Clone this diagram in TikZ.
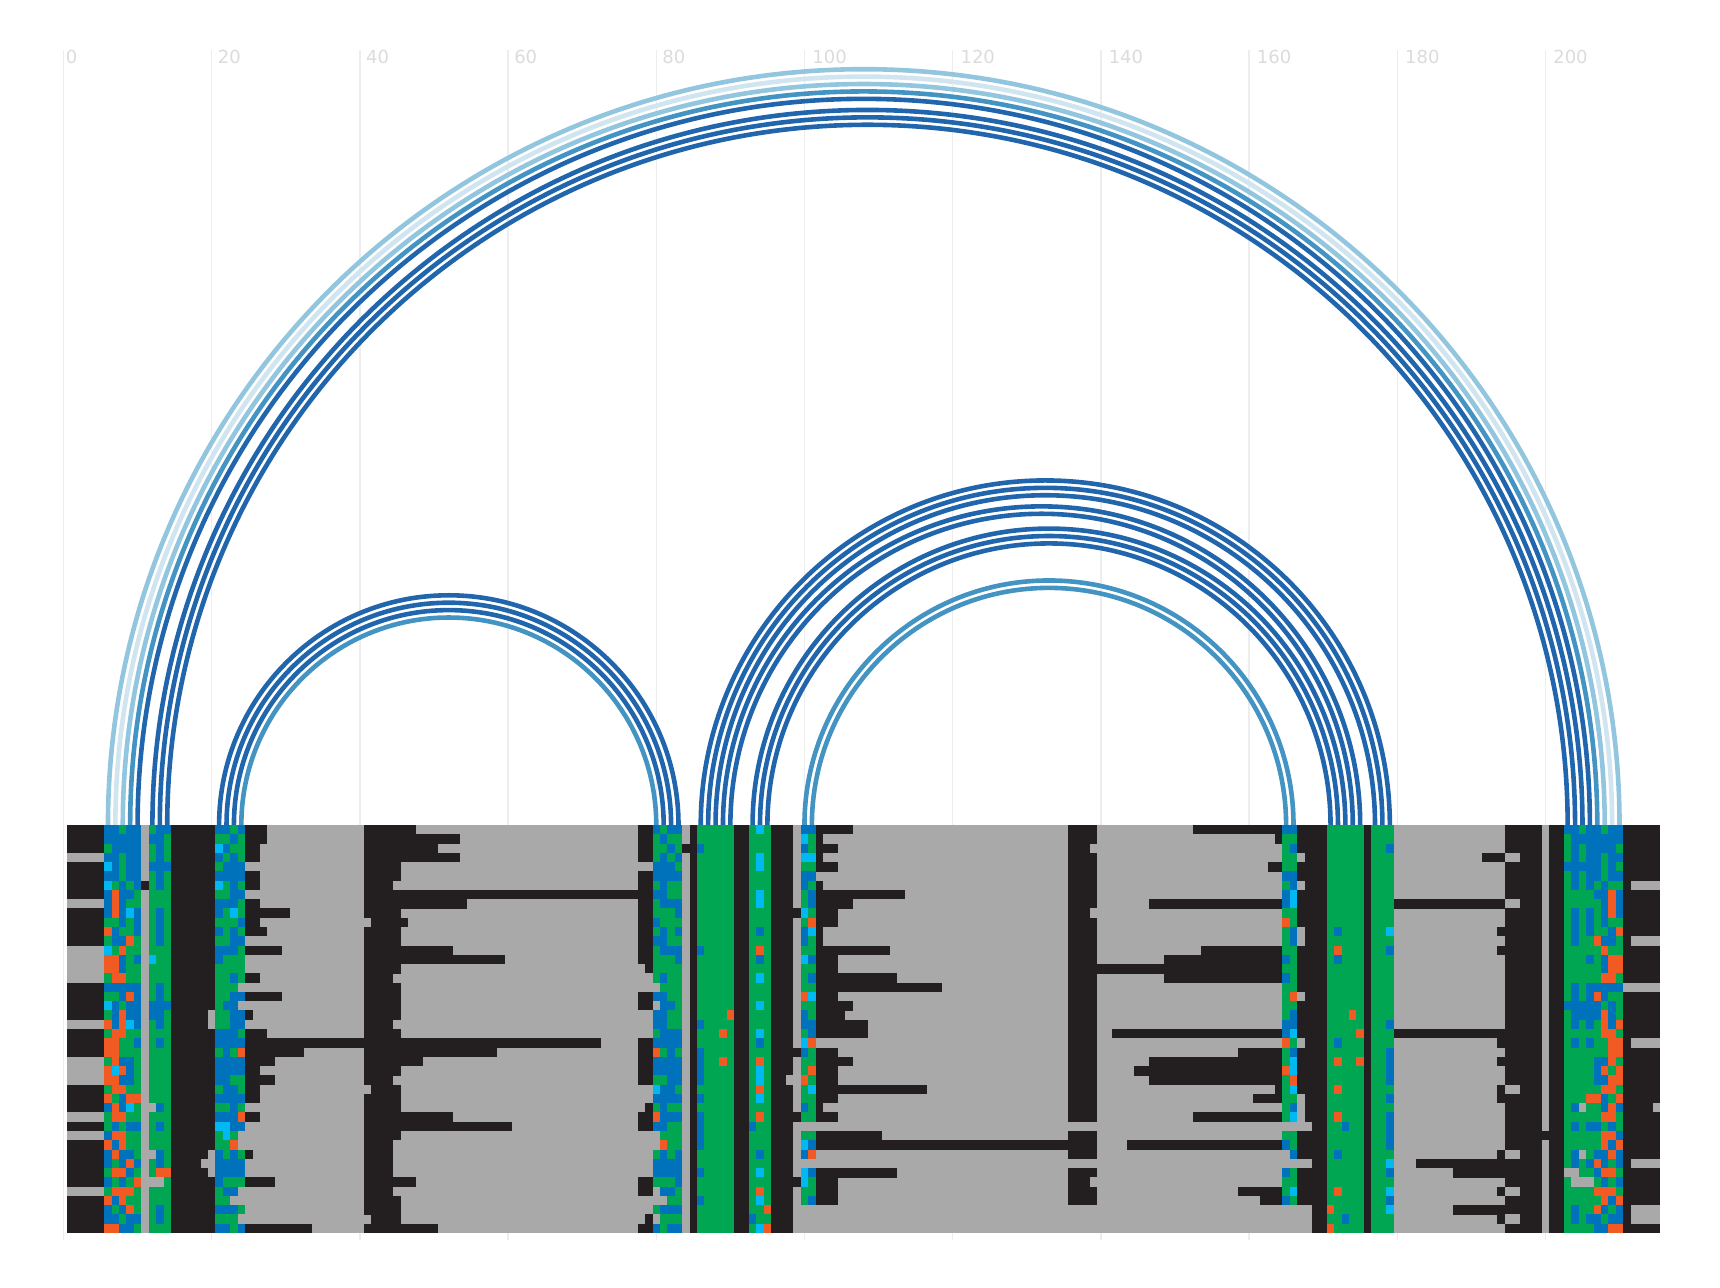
\documentclass[tikz,border=0pt]{standalone}
\usepackage{fontspec}
\setmainfont{DejaVu Sans}

\definecolor{cellk}{HTML}{231F20}
\definecolor{cella}{HTML}{A9A9A9}
\definecolor{cellb}{HTML}{0072BC}
\definecolor{cellg}{HTML}{00A651}
\definecolor{cello}{HTML}{F15A22}
\definecolor{cellc}{HTML}{00B9F2}
\definecolor{arcdark}{HTML}{2166AC}
\definecolor{arcmid}{HTML}{4393C3}
\definecolor{arclight}{HTML}{92C5DE}
\definecolor{arcpale}{HTML}{D1E5F0}

\tikzset{
	gridline/.style={draw=black!7, line width=0.7pt},
	ticklabel/.style={text=black!14, font=\fontsize{9}{9}\selectfont, anchor=base west, inner sep=0pt},
	pair/.style={line width=2.3pt}
}

% one row of the alignment: start column / one letter per cell
\newcount\cellx
\newcount\runx
\def\rowh{1.2514}
\def\flushrun{\ifnum\cellx>\runx
	\fill[cell\runc] (\the\runx-0.5,-\rowy*\rowh) rectangle (\the\cellx-0.48,-\rowy*\rowh-\rowh-0.02);\fi}
\def\nextcell#1{\ifx#1\relax\flushrun\else
	\if#1\runc\else\flushrun\runx=\cellx\def\runc{#1}\fi
	\advance\cellx by 1 \expandafter\nextcell\fi}
\newcommand{\alnrow}[2]{\def\rowy{#1}\foreach \from/\cells in {#2} {
		\cellx=\from\relax\runx=\cellx\def\runc{a}\expandafter\nextcell\cells\relax}}

\begin{document}
\begin{tikzpicture}[x=3.705pt, y=3.705pt]
	\useasboundingbox (-8.57,111.34) rectangle (223.56,-62.48);

	% Vertical guides with their numbers
	\foreach \x/\gap in {0/1, 20/2.9, 40/2.9, 60/2.9, 80/2.9, 100/3.75, 120/3.75, 140/3.75, 160/3.75, 180/3.75, 200/3.75} {
			\draw[gridline] (\x,104.6) -- (\x,-56);
			\node[ticklabel, xshift=\gap pt] (tick\x) at (\x,102.8) {\x};
		}

	% Base pairs as half circles over the alignment
	\foreach \left/\right/\tone in {
			6/210/arclight, 7/209/arcpale, 8/208/arclight, 9/207/arcmid, 10/206/arcdark,
			12/205/arcdark, 13/204/arcdark, 14/203/arcdark,
			21/83/arcdark, 22/82/arcdark, 23/81/arcdark, 24/80/arcmid,
			86/179/arcdark, 87/178/arcdark, 88/177/arcdark, 89/175/arcdark, 90/174/arcdark,
			93/173/arcdark, 94/172/arcdark, 95/171/arcdark,
			100/166/arcmid, 101/165/arcmid} {
			\draw[pair, draw=\tone] (\left,0) arc[start angle=180, end angle=0, radius={(\right-\left)/2}];
		}

	% Alignment, gray where nothing is listed
	\fill[cella] (0.5,0) rectangle (215.5,-44*\rowh);
	\alnrow{0}{1/kkkkk bbgbb a gbb kkkkkk bbgb kkk, 41/kkkkkkk, 78/kk bgbb ak ggggg kk gcg kkka bb kkkkk, 136/kkkk, 153/kkkkkkkkkk kk, 165/bb kkkk ggggg k ggg, 195/kkkkkakk bbgbbgbb kkkkk}
	\alnrow{1}{1/kkkkk bbbbb a bbg kkkkkk ggbg kkk, 41/kkkkkkkkkk kkk, 78/kk gbgg ak ggggg kk ggg kkka cg k, 136/kkkk, 164/k, 165/gg kkkk ggggg k ggg, 195/kkkkkakk gbbbbbbb kkkkk}
	\alnrow{2}{1/kkkkk gbbbb a gbg kkkkkk cbgg kk, 41/kkkkkkkkkk, 78/kk ggbg kk bgggg kk ggg kkka bg kkk, 136/kkka, 165/gb kkkk ggggg k ggb, 195/kkkkkakk gbgbbbbg kkkkk}
	\alnrow{3}{1/aaaaa bbgbb a gbg kkkkkk bgbg kk, 41/kkkkkkkkkk kkk, 78/kk gbgb ak ggggg kk gcg kkka cc k, 136/kkkk, 165/gg akkk ggggg k ggg, 192/kkk aakkkakk gbgbbgbb kkkkk}
	\alnrow{4}{1/kkkkk cbgbb a bbb kkkkkk gbbb, 41/kkkkk, 78/aa bbbg ak ggggg kk gcg kkka gg kkk, 136/kkkk, 163/kk, 165/gg kkkk ggggg k ggg, 195/kkkkkakk bbbbbgbg kkkkk}
	\alnrow{5}{1/kkkkk bbgbb a gbg kkkkkk bbbb kk, 41/kkkkk, 78/kk bbbb ak ggggg kk ggg kkka bb, 136/kkkk, 165/bb kkkk ggggg k ggg, 195/kkkkkakk gbgbbgbb kkkkk}
	\alnrow{6}{1/kkkkk cgbgb k gbg kkkkkk cgbg kk, 41/kkkk, 78/kk gbgg ak ggggg kk ggg kkka bg k, 136/kkkk, 165/gb akkk ggggg k ggg, 195/kkkkkakk gbgbgbgg kaaaa}
	\alnrow{7}{1/kkkkk bobbg a ggg kkkkkk ggbb, 41/kkkkkkkkkk kkkkkkkkkk kkkkkkkkkk kkkkkkk, 78/kk bbgg ak ggggg kk gcg kkka gb kkkkkkkkkk kk, 136/kkkk, 165/bc kkkk ggggg k ggg, 195/kkkkkakk ggggbbob kkkkk}
	\alnrow{8}{1/aaaaa bobgg a ggg kkkkkk bbbg kk, 41/kkkkkkkkkk kkkk, 78/kk gbbb ak ggggg kk gcg kkka gb kkkkk, 136/kkkk, 147/kkkkkkkkkk kkkkkkkk, 165/bc kkkk ggggg k ggg kkkkkkkkkk kkkkk aakkkakk gggggbob kkkkk}
	\alnrow{9}{1/kkkkk bobcb a gbg kkkkkk bgcg kkkkkk, 41/kkkkk, 78/kk gggb ak ggggg kk ggg kkkk cg kkk, 136/kkka, 165/gg kkkk ggggg k ggg, 195/kkkkkakk gbgbgbob kkkkk}
	\alnrow{10}{1/kkkkk ggbgb a gbg kkkkkk gggb kk, 42/kkkkk, 78/kk bggg ak ggggg kk ggg kkka go kkk, 136/kkkk, 165/og kkkk ggggg k ggg, 195/kkkkkakk gbgbgbgg kkkkk}
	\alnrow{11}{1/kkkkk obggb a gbg kkkkkk bgbg kkk, 41/kkkkk, 78/kk gbgb ak ggggg kk gbg kkka bc k, 136/kkkk, 165/gb akkk gbggg k ggc, 194/k kkkkkakk gbgbggbo kkkkk}
	\alnrow{12}{1/kkkkk gbbog a gbg kkkkkk ggbb, 41/kkkkk, 78/kk bbgg ak ggggg kk ggg kkka bg k, 136/kkkk, 165/gb akkk ggggg k ggg, 195/kkkkkakk gbggobbg kaaaa}
	\alnrow{13}{1/aaaaa cgogg a ggg kkkkkk bbbg kkkkk, 41/kkkkkkkkkk kk, 78/kk gbbb ak bgggg kk gog kkka gg kkkkkkkkkk, 136/kkkk, 154/kkkkkkkkkk k, 165/gg kkkk goggg k ggb, 194/k kkkkkakk gggggogg kkkkk}
	\alnrow{14}{1/aaaaa oobgb a cgg kkkkkk bggg, 41/kkkkkkkkkk kkkkkkkkk, 78/kk gggb ak ggggg kk gbg kkka cb kkk, 136/kkkk, 149/kkkkkkkkkk kkkkkk, 165/bg kkkk gbggg k ggg, 195/kkkkkakk gggbgboo kkkkk}
	\alnrow{15}{1/aaaaa oobgg a ggg kkkkkk gggg, 41/kkkkk, 78/ak gggg ak ggggg kk ggg kkka gg kkk, 136/kkkk kkkkkkkkkk kkkkkkkkkk kkkkk, 165/gg kkkk ggggg k ggg, 195/kkkkkakk gggggboo kkkkk}
	\alnrow{16}{1/aaaaa googg a ggg kkkkkk ggbg kk, 41/kkkk, 78/aa gbgg ak ggggg kk gcg kkka gb kkkkkkkkkk k, 136/kkkk, 149/kkkkkkkkkk kkkkkk, 165/bg kkkk ggggg k ggg, 195/kkkkkakk gggggoog kkkkk}
	\alnrow{17}{1/kkkkk bbbbb a gbg kkkkkk ggga, 41/kkkkk, 78/aa aggg ak ggggg kk ggg kkka gg kkkkkkkkkk kkkkkkk, 136/kkkk, 165/gg kkkk ggggg k ggg, 195/kkkkkakk gbgbbbbb aaaaa}
	\alnrow{18}{1/kkkkk ggbob a gbg kkkkkk ggbb kkkkk, 41/kkkkk, 78/kk bbgg ak ggggg kk ggg kkka oc kkk, 136/kkkk, 165/go akkk ggggg k ggg, 195/kkkkkakk gbgbobgg kkkkk}
	\alnrow{19}{1/kkkkk cbgbb a bbb kkkkkk gbba, 41/kkkkk, 78/kk abbg ak ggggg kk gcg kkka gg kkkkk, 136/kkkk, 165/gg kkkk ggggg k ggg, 195/kkkkkakk bbbbbgbg kkkkk}
	\alnrow{20}{1/kkkkk gbobb a bbg kkkkka ggbb k, 41/kkkkk, 78/aa bbgg ak ggggo kk ggg kkka bg kkkk, 136/kkkk, 165/gb kkkk gggog k ggg, 195/kkkkkakk gbbbbobg kkkkk}
	\alnrow{21}{1/aaaaa obocb a gbg kkkkka ggbb, 41/kkkk, 78/aa bbgg ak bgggg kk ggg kkka bb kkkkkkk, 136/kkkk, 165/bb kkkk ggggg k ggb, 195/kkkkkakk gbgbgobo kkkkk}
	\alnrow{22}{1/kkkkk googg a ggg kkkkkk bbbg kkk, 41/kkkkk, 78/aa gbbb ak gggog kk gcg kkka gb kkkkkkk, 136/kkkk, 142/kkkkkkkkkk kkkkkkkkkk kkk, 165/bc kkkk ggggo k ggg kkkkkkkkkk kkkkk kkkkkakk gggggoog kkkkk}
	\alnrow{23}{1/kkkkk ooggb a gbg kkkkkk bbbb kkkkkkkkkk kkkkkk, 41/kkkkkkkkkk kkkkkkkkkk kkkkkkkkkk kk, 78/kk bbbb ak ggggg kk gbg kkka co, 136/kkkk, 165/og akkk gbggg k ggg, 194/k kkkkkakk gbgbggoo kaaaa}
	\alnrow{24}{1/kkkkk ooggg a ggg kkkkkk gbgo kkkkkkkk, 41/kkkkkkkkkk kkkkkkkk, 78/kk ogbg ak bgggg kk ggg kkkk bg kkk, 136/kkkk, 159/kkkkkk, 165/gb kkkk ggggg k ggb, 195/kkkkkakk ggggggoo kkkkk}
	\alnrow{25}{1/aaaaa gobbg a ggg kkkkkk bbbb kkkk, 41/kkkkkkkk, 78/kk bbbb ak bggog kk gog kkka gg kkkkk, 136/kkkk, 147/kkkkkkkkkk kkkkkkkk, 165/gc kkkk goggo k ggb, 194/k kkkkkakk ggggbbog kkkkk}
	\alnrow{26}{1/aaaaa ocobg a ggg kkkkkk bbbb kk, 41/kkkkk, 78/kk bbbb ak bgggg kk gcg kkka go kkk, 136/kkkk, 145/kkkkkkkkkk kkkkkkkkkk, 165/oc kkkk ggggg k ggb, 195/kkkkkakk ggggbogo kkkkk}
	\alnrow{27}{1/aaaaa oobbg a ggg kkkkkk bbgg kkkk, 41/kkkk, 78/kk ggbb ak bgggg kk gcg kkaa og kkk, 136/kkkk, 147/kkkkkkkkkk kkkkkkkk, 165/go kkkk ggggg k ggb, 195/kkkkkakk ggggbboo kkkkk}
	\alnrow{28}{1/kkkkk googg a ggg kkkkkk gbbg kk, 42/kkkk, 78/aa cbbg ak ggggg kk gog kkka gc kkkkkkkkkk kkkkk, 136/kkkk, 164/k, 165/gc kkkk goggg k ggg, 194/k aakkkakk gggggoog kkkkk}
	\alnrow{29}{1/kkkkk ogboo a ggg kkkkkk bbbb kk, 41/kkkkk, 78/aa bbbb ak bgggg kk gcg kkka gg kkk, 136/kkkk, 161/kkkk, 165/gg akkk ggggg k ggb, 194/k kkkkkakk gggoobgo kkkkk}
	\alnrow{30}{1/kkkkk bobcg a abg kkkkkk ggbg, 41/kkkkk, 78/ak gbgg ak ggggg kk ggg kkka bg k, 136/kkkk, 165/gb akkk ggggg k ggg, 195/kkkkkakk gbaggbob kkkka}
	\alnrow{31}{1/aaaaa googg a ggg kkkkkk bbbo kk, 41/kkkkkkkkkk kk, 78/kk obbb ak bgggg kk gog kkkk gg kkk, 136/kkkk, 153/kkkkkkkkkk kk, 165/gc akkk goggg k ggb, 195/kkkkkakk gggggoog kkkkk}
	\alnrow{32}{1/kkkkk gbgbb a gbg kkkkkk ccbb, 41/kkkkkkkkkk kkkkkkkkkk, 78/kk bbgg ak bgggg kk bgg kkka aa, 165/aa aakk ggbgg k ggb, 195/kkkkkakk gbgbbgbg kkkkk}
	\alnrow{33}{1/aaaaa boogg a ggg kkkkkk gcga, 41/kkkkk, 78/aa aggg ak bgggg kk ggg kkka gg kkkkkkkkk, 136/kkkk, 165/gg kkkk ggggg k ggb, 195/kkkkkkkk gggggoob kkkkk}
	\alnrow{34}{1/kkkkk obogg a ggg kkkkkk ggoa, 41/kkkk, 78/aa aogg ak bgggg kk ggg kkka cb kkkkkkkkkk kkkkkkkkkk kkkkkkkkkk kkkk, 136/kkkk, 144/kkkkkkkkkk kkkkkkkkkk k, 165/bg kkkk ggggg k ggb, 195/kkkkkakk gggggobo kkkkk}
	\alnrow{35}{1/kkkkk bobbg a abg kkkkka bgbg k, 41/kkkk, 78/aa gbgb ak ggggg kk gbg kkka bo, 136/kkkk, 165/ab kkkk gbggg k ggg, 194/k aakkkakk gbagbbob kkkkk}
	\alnrow{36}{1/kkkkk bgbob a gbg kkkkaa bbbb, 41/kkkk, 78/aa bbbb ak ggggg kk ggg kkka aa, 165/aa aakk ggggg k ggc, 183/kkkkkkkkkk kk kkkkkakk gbgbobgb kaaaa}
	\alnrow{37}{1/kkkkk goobg a goo kkkkka bbbb, 41/kkkk, 78/aa bbbb ak bgggg kk gcg kkka cb kkkkkkkkkk k, 136/kkkk, 165/bg kkkk ggggg k ggb, 188/kkkkkkk kkkkkakk aaggboog kkkkk}
	\alnrow{38}{1/kkkkk bgbgo a aag kkkkkk bggg kkkk, 41/kkkkkkk, 78/kk gggb ak ggggg kk ggg kkkk cg kkk, 136/kkka, 165/gg kkkk ggggg k ggg, 195/kkkkkakk gaaagbgb kkkkk}
	\alnrow{39}{1/aaaaa gooog a ggg kkkkkk gbba, 41/kkkk, 78/kk abbg ak ggggg kk gog kkka gg kkk, 136/kkkk, 159/kkkkkk, 165/gc kkkk goggg k ggc, 194/k aakkkakk ggggooog kkkkk}
	\alnrow{40}{1/kkkkk obogg a ggg kkkkkk ggaa, 41/kkkkk, 78/aa aagg ak bgggg kk gcg kkka gb kkk, 136/kkkk, 162/kkk, 165/bg kkkk ggggg k ggb, 195/kkkkkakk gggggobo kkkkk}
	\alnrow{41}{1/kkkkk bgbog a gbg kkkkkk bbbg, 41/kkkkk, 78/aa gbbb ak ggggg kk ggo kkka aa, 165/aa aakk ogggg k ggc, 188/kkkkkkk kkkkkakk gbggobgb kaaaa}
	\alnrow{42}{1/kkkkk bbgbb a gbg kkkkkk ggga, 42/kkkk, 78/ak aggg ak ggggg kk bgg kkka aa, 165/aa aakk ggbgg k ggg, 194/k aakkkakk gbgbbgbb kaaaa}
	\alnrow{43}{1/kkkkk oobbg a ggg kkkkkk bbgb kkkkkkkkk, 41/kkkkkkkkkk, 78/kk bgbb ak ggggg kk gco kkka aa, 165/aa aakk ogggg k ggg, 195/kkkkkakk ggggbboo kkkkk}

\end{tikzpicture}
\end{document}
